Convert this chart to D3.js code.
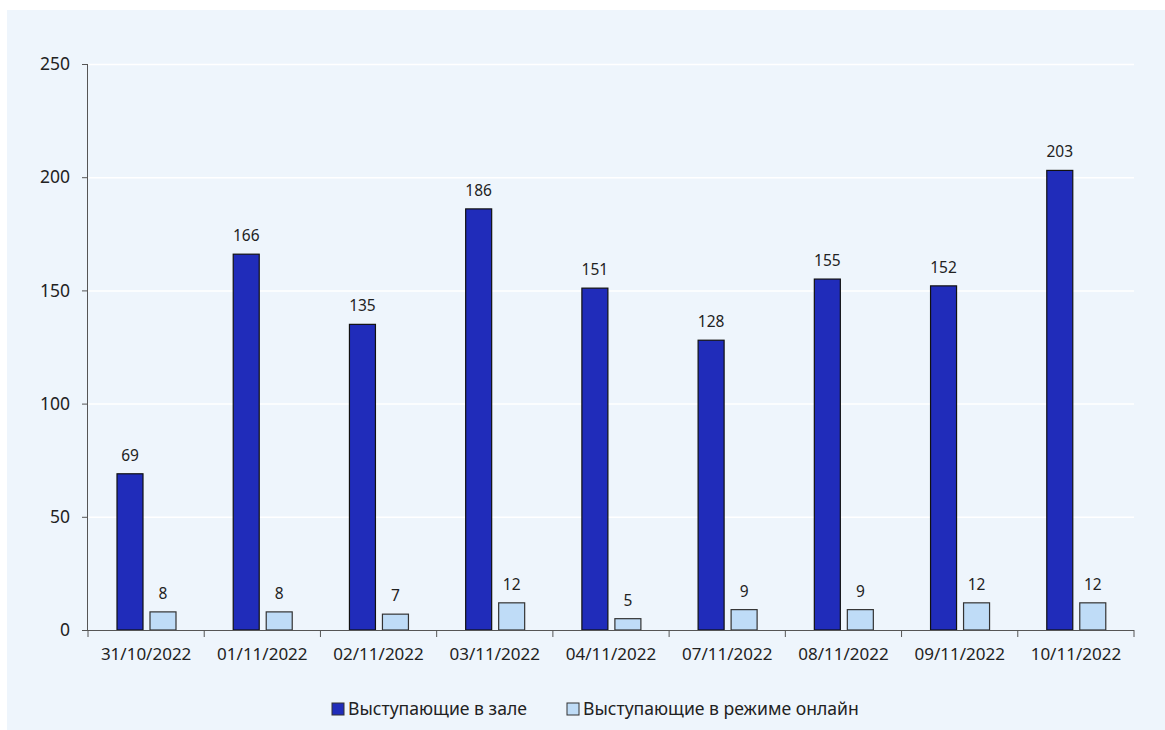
<!DOCTYPE html>
<html><head><meta charset="utf-8">
<script src="https://cdn.jsdelivr.net/npm/d3@7"></script>
<style>
body{margin:0;background:#fff;}
svg{display:block;font-family:"Noto Sans","Open Sans",sans-serif;}
</style></head>
<body><svg id="c" width="1165" height="730"></svg>
<script>
const categories=["31/10/2022","01/11/2022","02/11/2022","03/11/2022","04/11/2022","07/11/2022","08/11/2022","09/11/2022","10/11/2022"];
const hallValues=[69,166,135,186,151,128,155,152,203];
const onlineValues=[8,8,7,12,5,9,9,12,12];
const seriesNames=["Выступающие в зале","Выступающие в режиме онлайн"];
const seriesColors=["#202cba","#bfdcf7"];
const yTicks=[0,50,100,150,200,250];

const FONT="Noto Sans, Open Sans, sans-serif";
const svg=d3.select("#c");
svg.append("rect").attr("x",7).attr("y",10).attr("width",1158).attr("height",720).attr("fill","#eef5fc");
const L=88,R=1134,T=64,B=630;
const x=d3.scaleBand().domain(categories).range([L,R]).paddingInner(0).paddingOuter(0);
const y=d3.scaleLinear().domain([0,250]).range([B,T]);
// grid
svg.append("g").selectAll("line").data(yTicks.slice(1)).join("line")
 .attr("x1",L).attr("x2",R).attr("y1",d=>y(d)+0.5).attr("y2",d=>y(d)+0.5)
 .attr("stroke","#ffffff").attr("stroke-width",1.5);
const bw=26,gap=7,off=29;
const series=[hallValues,onlineValues];
series.forEach((vals,si)=>{
 const g=svg.append("g");
 g.selectAll("rect").data(vals).join("rect")
  .attr("x",(d,i)=>x(categories[i])+off+si*(bw+gap))
  .attr("y",d=>y(d)).attr("width",bw).attr("height",d=>B-y(d))
  .attr("fill",seriesColors[si]).attr("stroke",si===0?"#111":"#333").attr("stroke-width",1.2);
 g.selectAll("text").data(vals).join("text")
  .attr("x",(d,i)=>x(categories[i])+off+si*(bw+gap)+bw/2)
  .attr("y",d=>y(d)-13).attr("text-anchor","middle")
  .attr("font-size",15.5).attr("fill","#222").text(d=>d);
});
// y axis
const ya=svg.append("g").attr("transform",`translate(${L},0)`)
 .call(d3.axisLeft(y).tickValues(yTicks).tickSize(6).tickPadding(12));
ya.select(".domain").attr("stroke","#555").attr("d",`M-0.5,${T}V${B}`);
ya.selectAll(".tick line").attr("stroke","#555");
ya.selectAll("text").attr("font-size",17.5).attr("fill","#222").attr("font-family",FONT);
// x axis
const xa=svg.append("g").attr("transform",`translate(0,${B})`)
 .call(d3.axisBottom(x).tickSize(0).tickPadding(18));
xa.select(".domain").attr("stroke","#555").attr("d",`M${L},0.5H${R}`);
xa.selectAll("text").attr("font-size",17).attr("fill","#222").attr("font-family",FONT);
const bounds=categories.map(c=>x(c)).concat([R]);
svg.append("g").selectAll("line").data(bounds).join("line")
 .attr("x1",d=>d).attr("x2",d=>d).attr("y1",B).attr("y2",B+7).attr("stroke","#555");
// legend
const lg=svg.append("g").attr("transform","translate(332,709)");
const lx=[0,235];
seriesNames.forEach((n,i)=>{
 lg.append("rect").attr("x",lx[i]).attr("y",-6).attr("width",12).attr("height",12)
  .attr("fill",seriesColors[i]).attr("stroke","#333").attr("stroke-width",1);
 lg.append("text").attr("x",lx[i]+16).attr("y",0).attr("dy","0.35em")
  .attr("font-size",17.6).attr("fill","#222").text(n);
});
</script></body></html>
